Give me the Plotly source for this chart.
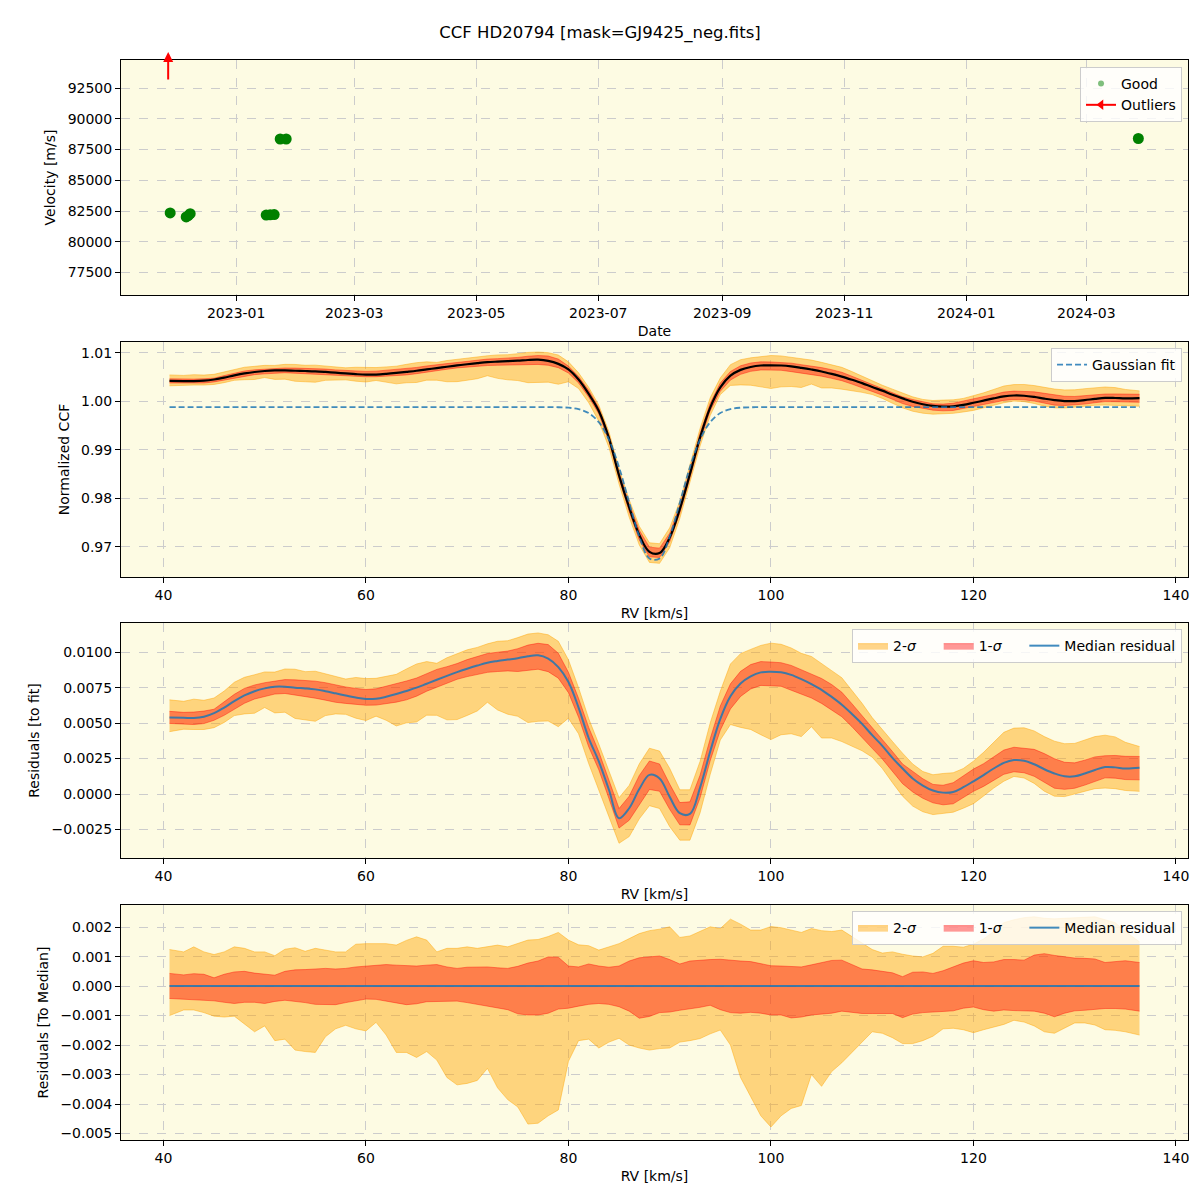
import plotly.graph_objects as go

# ---------------- Panel 1: velocities ----------------
good_dates = ["2022-11-29", "2022-12-07", "2022-12-08", "2022-12-09",
              "2023-01-16", "2023-01-18", "2023-01-20",
              "2023-01-23", "2023-01-26", "2024-03-27"]
good_vel = [82340, 82020, 82120, 82280,
            82170, 82190, 82210,
            88360, 88360, 88400]
outlier_dates = ["2022-11-28"]

# ---------------- CCF grid (km/s) ----------------
rv = [40.6, 42, 43, 44, 45, 46, 47, 48, 49, 50,
      51, 52, 53, 54, 55, 56, 57, 58, 59, 60,
      61, 62, 63, 64, 65, 66, 67, 68, 69, 70,
      71, 72, 73, 74, 75, 76, 77, 78, 79, 80,
      81, 82, 83, 84, 85, 86, 87, 88, 89, 90,
      91, 92, 93, 94, 95, 96, 97, 98, 99, 100,
      101, 102, 103, 104, 105, 106, 107, 108, 109, 110,
      111, 112, 113, 114, 115, 116, 117, 118, 119, 120,
      121, 122, 123, 124, 125, 126, 127, 128, 129, 130,
      131, 132, 133, 134, 135, 136.4]

# Gaussian fit (normalized CCF)
gauss_fit = [0.9988, 0.9988, 0.9988, 0.9988, 0.9988, 0.9988, 0.9988, 0.9988, 0.9988, 0.9988,
             0.9988, 0.9988, 0.9988, 0.9988, 0.9988, 0.9988, 0.9988, 0.9988, 0.9988, 0.9988,
             0.9988, 0.9988, 0.9988, 0.9988, 0.9988, 0.9988, 0.9988, 0.9988, 0.9988, 0.9988,
             0.9988, 0.9988, 0.9988, 0.9988, 0.9988, 0.9988, 0.9988, 0.9988, 0.99877, 0.99868,
             0.99838, 0.99757, 0.9957, 0.9921, 0.9864, 0.9791, 0.9721, 0.9676, 0.9676, 0.9721,
             0.9791, 0.9864, 0.9921, 0.9957, 0.99757, 0.99838, 0.99868, 0.99877, 0.9988, 0.9988,
             0.9988, 0.9988, 0.9988, 0.9988, 0.9988, 0.9988, 0.9988, 0.9988, 0.9988, 0.9988,
             0.9988, 0.9988, 0.9988, 0.9988, 0.9988, 0.9988, 0.9988, 0.9988, 0.9988, 0.9988,
             0.9988, 0.9988, 0.9988, 0.9988, 0.9988, 0.9988, 0.9988, 0.9988, 0.9988, 0.9988,
             0.9988, 0.9988, 0.9988, 0.9988, 0.9988, 0.9988]

# Median residual to fit (units of 1e-3)
resid_median = [5.40, 5.38, 5.36, 5.45, 5.70, 6.10, 6.55, 6.95, 7.25, 7.45,
                7.57, 7.57, 7.50, 7.45, 7.38, 7.25, 7.10, 6.95, 6.80, 6.70,
                6.72, 6.86, 7.05, 7.27, 7.50, 7.78, 8.06, 8.33, 8.60, 8.84,
                9.06, 9.26, 9.38, 9.48, 9.58, 9.72, 9.78, 9.55, 8.95, 7.90,
                6.10, 3.95, 2.30, 0.30, -1.70, -1.00, 0.35, 1.35, 1.10, -0.20,
                -1.35, -1.40, 0.45, 3.00, 5.30, 6.90, 7.80, 8.30, 8.58, 8.62,
                8.58, 8.40, 8.10, 7.75, 7.35, 6.85, 6.30, 5.65, 4.95, 4.15,
                3.40, 2.55, 1.80, 1.10, 0.60, 0.25, 0.10, 0.15, 0.48, 0.90,
                1.34, 1.80, 2.20, 2.40, 2.35, 2.10, 1.75, 1.45, 1.25, 1.25,
                1.45, 1.70, 1.90, 1.88, 1.80, 1.85]

# Percentile offsets relative to the median (units of 1e-3)
upper_2sig = [1.24, 1.16, 1.33, 1.16, 1.07, 1.16, 1.33, 1.28, 1.16, 1.16,
              1.03, 1.25, 1.30, 1.18, 1.28, 1.22, 1.16, 1.16, 1.42, 1.44,
              1.44, 1.44, 1.39, 1.55, 1.67, 1.56, 1.16, 1.28, 1.28, 1.33,
              1.28, 1.33, 1.39, 1.33, 1.45, 1.56, 1.58, 1.68, 1.82, 1.56,
              1.40, 1.37, 1.22, 1.33, 1.44, 1.61, 1.78, 1.88, 1.93, 2.01,
              1.65, 1.70, 1.85, 2.01, 1.95, 2.27, 2.10, 1.90, 1.90, 2.02,
              1.98, 1.90, 1.82, 1.95, 1.88, 1.85, 1.90, 1.68, 1.45, 1.24,
              1.12, 1.16, 1.08, 1.02, 0.99, 1.11, 1.35, 1.35, 1.32, 1.42,
              1.60, 1.85, 2.15, 2.25, 2.32, 2.35, 2.30, 2.28, 2.30, 2.32,
              2.35, 2.35, 2.25, 2.15, 1.85, 1.50]
upper_1sig = [0.43, 0.38, 0.42, 0.40, 0.28, 0.40, 0.48, 0.50, 0.44, 0.40,
              0.37, 0.50, 0.55, 0.56, 0.58, 0.60, 0.58, 0.60, 0.65, 0.67,
              0.70, 0.73, 0.71, 0.70, 0.68, 0.71, 0.73, 0.65, 0.60, 0.64,
              0.65, 0.65, 0.62, 0.60, 0.67, 0.78, 0.85, 0.99, 0.98, 0.68,
              0.65, 0.75, 0.68, 0.64, 0.68, 0.85, 0.96, 0.98, 1.02, 0.90,
              0.75, 0.85, 0.88, 0.90, 0.91, 0.87, 0.85, 0.83, 0.76, 0.69,
              0.68, 0.67, 0.65, 0.72, 0.80, 0.87, 0.88, 0.72, 0.58, 0.55,
              0.51, 0.45, 0.32, 0.47, 0.48, 0.43, 0.52, 0.65, 0.78, 0.86,
              0.80, 0.82, 0.90, 0.90, 0.88, 1.05, 1.10, 1.04, 0.99, 0.95,
              0.94, 0.92, 0.80, 0.84, 0.86, 0.80]
lower_1sig = [-0.42, -0.44, -0.46, -0.48, -0.50, -0.55, -0.59, -0.55, -0.55, -0.59,
              -0.52, -0.48, -0.51, -0.56, -0.62, -0.63, -0.63, -0.56, -0.50, -0.44,
              -0.45, -0.50, -0.57, -0.63, -0.60, -0.53, -0.53, -0.52, -0.51, -0.56,
              -0.62, -0.68, -0.74, -0.80, -0.94, -0.98, -0.98, -0.92, -0.78, -0.75,
              -0.68, -0.62, -0.59, -0.62, -0.70, -0.85, -1.09, -1.03, -0.90, -0.88,
              -0.82, -0.78, -0.72, -0.65, -0.80, -0.90, -0.92, -0.89, -0.92, -0.98,
              -0.98, -1.08, -1.05, -0.98, -0.96, -0.92, -0.85, -0.90, -0.93, -0.93,
              -0.93, -0.93, -1.07, -0.95, -0.90, -0.87, -0.86, -0.84, -0.75, -0.71,
              -0.80, -0.85, -0.81, -0.83, -0.85, -0.85, -0.92, -1.04, -0.92, -0.84,
              -0.82, -0.79, -0.76, -0.76, -0.78, -0.85]
lower_2sig = [-1.00, -0.81, -0.81, -0.90, -1.02, -1.05, -1.02, -1.30, -1.55, -1.35,
              -1.85, -1.80, -2.17, -2.22, -2.25, -1.72, -1.45, -1.33, -1.45, -1.52,
              -1.23, -1.66, -2.25, -2.25, -2.42, -2.22, -2.51, -3.10, -3.35, -3.30,
              -3.20, -2.79, -3.45, -3.85, -4.10, -4.68, -4.65, -4.40, -4.20, -2.55,
              -1.85, -1.80, -2.10, -1.90, -1.77, -2.00, -2.10, -2.17, -2.12, -2.10,
              -1.90, -1.85, -1.78, -1.62, -1.49, -2.00, -3.10, -3.75, -4.40, -4.78,
              -4.40, -4.15, -4.05, -3.00, -3.40, -2.90, -2.60, -2.25, -1.90, -1.55,
              -1.60, -1.75, -1.95, -1.95, -1.85, -1.70, -1.45, -1.43, -1.48, -1.58,
              -1.48, -1.38, -1.30, -1.16, -1.22, -1.35, -1.55, -1.60, -1.43, -1.25,
              -1.25, -1.32, -1.48, -1.50, -1.55, -1.66]
UNIT = 1e-3

# ---------------- derived series ----------------
resid = [v * UNIT for v in resid_median]
ccf_median = [f + r for f, r in zip(gauss_fit, resid)]
zeros = [0.0 for _ in rv]

FILL2 = "rgba(255,165,0,0.45)"
FILL1 = "rgba(255,0,0,0.40)"
C0 = "rgba(31,119,180,0.85)"
FONT = "DejaVu Sans"
FS = 14
PAD = "\u00a0\u00a0\u00a0\u00a0"

fig = go.Figure()


def add_bands(center, xa, ya, leg, show):
    lo2 = [c + d * UNIT for c, d in zip(center, lower_2sig)]
    hi2 = [c + d * UNIT for c, d in zip(center, upper_2sig)]
    lo1 = [c + d * UNIT for c, d in zip(center, lower_1sig)]
    hi1 = [c + d * UNIT for c, d in zip(center, upper_1sig)]
    fig.add_trace(go.Scatter(x=rv, y=lo2, mode="lines", line=dict(color=FILL2, width=1),
                             xaxis=xa, yaxis=ya, showlegend=False, hoverinfo="skip"))
    fig.add_trace(go.Scatter(x=rv, y=hi2, mode="lines", line=dict(color=FILL2, width=1),
                             fill="tonexty", fillcolor=FILL2, name="2-<i>σ</i>" + PAD,
                             xaxis=xa, yaxis=ya, legend=leg, showlegend=show))
    fig.add_trace(go.Scatter(x=rv, y=lo1, mode="lines", line=dict(color=FILL1, width=1),
                             xaxis=xa, yaxis=ya, showlegend=False, hoverinfo="skip"))
    fig.add_trace(go.Scatter(x=rv, y=hi1, mode="lines", line=dict(color=FILL1, width=1),
                             fill="tonexty", fillcolor=FILL1, name="1-<i>σ</i>" + PAD,
                             xaxis=xa, yaxis=ya, legend=leg, showlegend=show))


# Panel 1
fig.add_trace(go.Scatter(x=good_dates, y=good_vel, mode="markers",
                         marker=dict(size=11, color="green"),
                         xaxis="x", yaxis="y", showlegend=False))
fig.add_trace(go.Scatter(x=[None], y=[None], mode="markers",
                         marker=dict(size=6, color="rgba(0,128,0,0.5)"),
                         name="Good", xaxis="x", yaxis="y", legend="legend"))
fig.add_trace(go.Scatter(x=[None], y=[None], mode="lines+markers",
                         line=dict(color="red", width=2),
                         marker=dict(symbol="triangle-left", size=9, color="red"),
                         name="Outliers", xaxis="x", yaxis="y", legend="legend"))
for d in outlier_dates:
    fig.add_annotation(x=d, y=1.034, xref="x", yref="y domain", ax=0, ay=29,
                       showarrow=True, arrowhead=2, arrowsize=1, arrowwidth=2,
                       arrowcolor="red", text="")

# Panel 2
add_bands(ccf_median, "x2", "y2", "legend2", False)
fig.add_trace(go.Scatter(x=rv, y=ccf_median, mode="lines", line=dict(color="black", width=2.2, shape="spline"),
                         xaxis="x2", yaxis="y2", showlegend=False))
fig.add_trace(go.Scatter(x=rv, y=gauss_fit, mode="lines",
                         line=dict(color=C0, width=1.8, dash="6px,3px", shape="spline"),
                         name="Gaussian fit", xaxis="x2", yaxis="y2", legend="legend2"))

# Panel 3
add_bands(resid, "x3", "y3", "legend3", True)
fig.add_trace(go.Scatter(x=rv, y=resid, mode="lines", line=dict(color=C0, width=2, shape="spline"),
                         name="Median residual", xaxis="x3", yaxis="y3", legend="legend3"))

# Panel 4
add_bands(zeros, "x4", "y4", "legend4", True)
fig.add_trace(go.Scatter(x=rv, y=zeros, mode="lines", line=dict(color=C0, width=2),
                         name="Median residual", xaxis="x4", yaxis="y4", legend="legend4"))

ax_common = dict(showline=True, linecolor="black", linewidth=1, mirror=True,
                 ticks="outside", ticklen=5, tickwidth=1, tickcolor="black",
                 showgrid=True, gridcolor="#cccccc", griddash="dash", gridwidth=1,
                 zeroline=False, automargin=False,
                 tickfont=dict(family=FONT, size=FS, color="black"))


def ttl(t, s=4):
    return dict(text=t, standoff=s, font=dict(family=FONT, size=FS, color="black"))


rv_range = [35.81, 141.19]
leg_common = dict(bgcolor="rgba(255,255,255,0.8)", bordercolor="#cccccc", borderwidth=1,
                  font=dict(family=FONT, size=FS, color="black"), traceorder="normal",
                  xanchor="right", yanchor="top", xref="paper", yref="paper")

# page body has an 8px margin: plot areas at x 121..1188, y 60..1140 on the page
fig.update_layout(
    width=1200, height=1200,
    margin=dict(l=113, r=20, t=52, b=68),
    paper_bgcolor="white", plot_bgcolor="#fdfbe3",
    font=dict(family=FONT, size=FS, color="black"),
    title=dict(text="CCF HD20794 [mask=GJ9425_neg.fits]", x=592 / 1200, xref="container",
               y=1 - 24 / 1200, yref="container", yanchor="middle", xanchor="center",
               font=dict(family=FONT, size=16.5, color="black")),
    xaxis=dict(ax_common, domain=[0, 1], anchor="y", type="date",
               range=["2022-11-04 10:00", "2024-04-20 20:00"],
               tick0="2023-01-01", dtick="M2", tickformat="%Y-%m", title=ttl("Date", 6)),
    yaxis=dict(ax_common, domain=[0.78241, 1.0], anchor="x", range=[75663, 94790],
               tick0=0, dtick=2500, tickformat="d", title=ttl("Velocity [m/s]", 8)),
    xaxis2=dict(ax_common, domain=[0, 1], anchor="y2", range=rv_range, tick0=0, dtick=20,
                title=ttl("RV [km/s]", 6)),
    yaxis2=dict(ax_common, domain=[0.52130, 0.73889], anchor="x2", range=[0.96377, 1.01223],
                tick0=0, dtick=0.01, tickformat=".2f", title=ttl("Normalized CCF", 8)),
    xaxis3=dict(ax_common, domain=[0, 1], anchor="y3", range=rv_range, tick0=0, dtick=20,
                title=ttl("RV [km/s]", 6)),
    yaxis3=dict(ax_common, domain=[0.26111, 0.47870], anchor="x3", range=[-0.00451, 0.01206],
                tick0=0, dtick=0.0025, tickformat=".4f", title=ttl("Residuals [to fit]", 8)),
    xaxis4=dict(ax_common, domain=[0, 1], anchor="y4", range=rv_range, tick0=0, dtick=20,
                title=ttl("RV [km/s]", 6)),
    yaxis4=dict(ax_common, domain=[0, 0.21759], anchor="x4", range=[-0.00522, 0.00275],
                tick0=0, dtick=0.001, tickformat=".3f", title=ttl("Residuals [To Median]", 8)),
    legend=dict(leg_common, x=0.9944, y=0.9935),
    legend2=dict(leg_common, x=0.9944, y=0.7333),
    legend3=dict(leg_common, x=0.9944, y=0.4731, orientation="h"),
    legend4=dict(leg_common, x=0.9944, y=0.2120, orientation="h"),
)

fig.write_html("out.html")
